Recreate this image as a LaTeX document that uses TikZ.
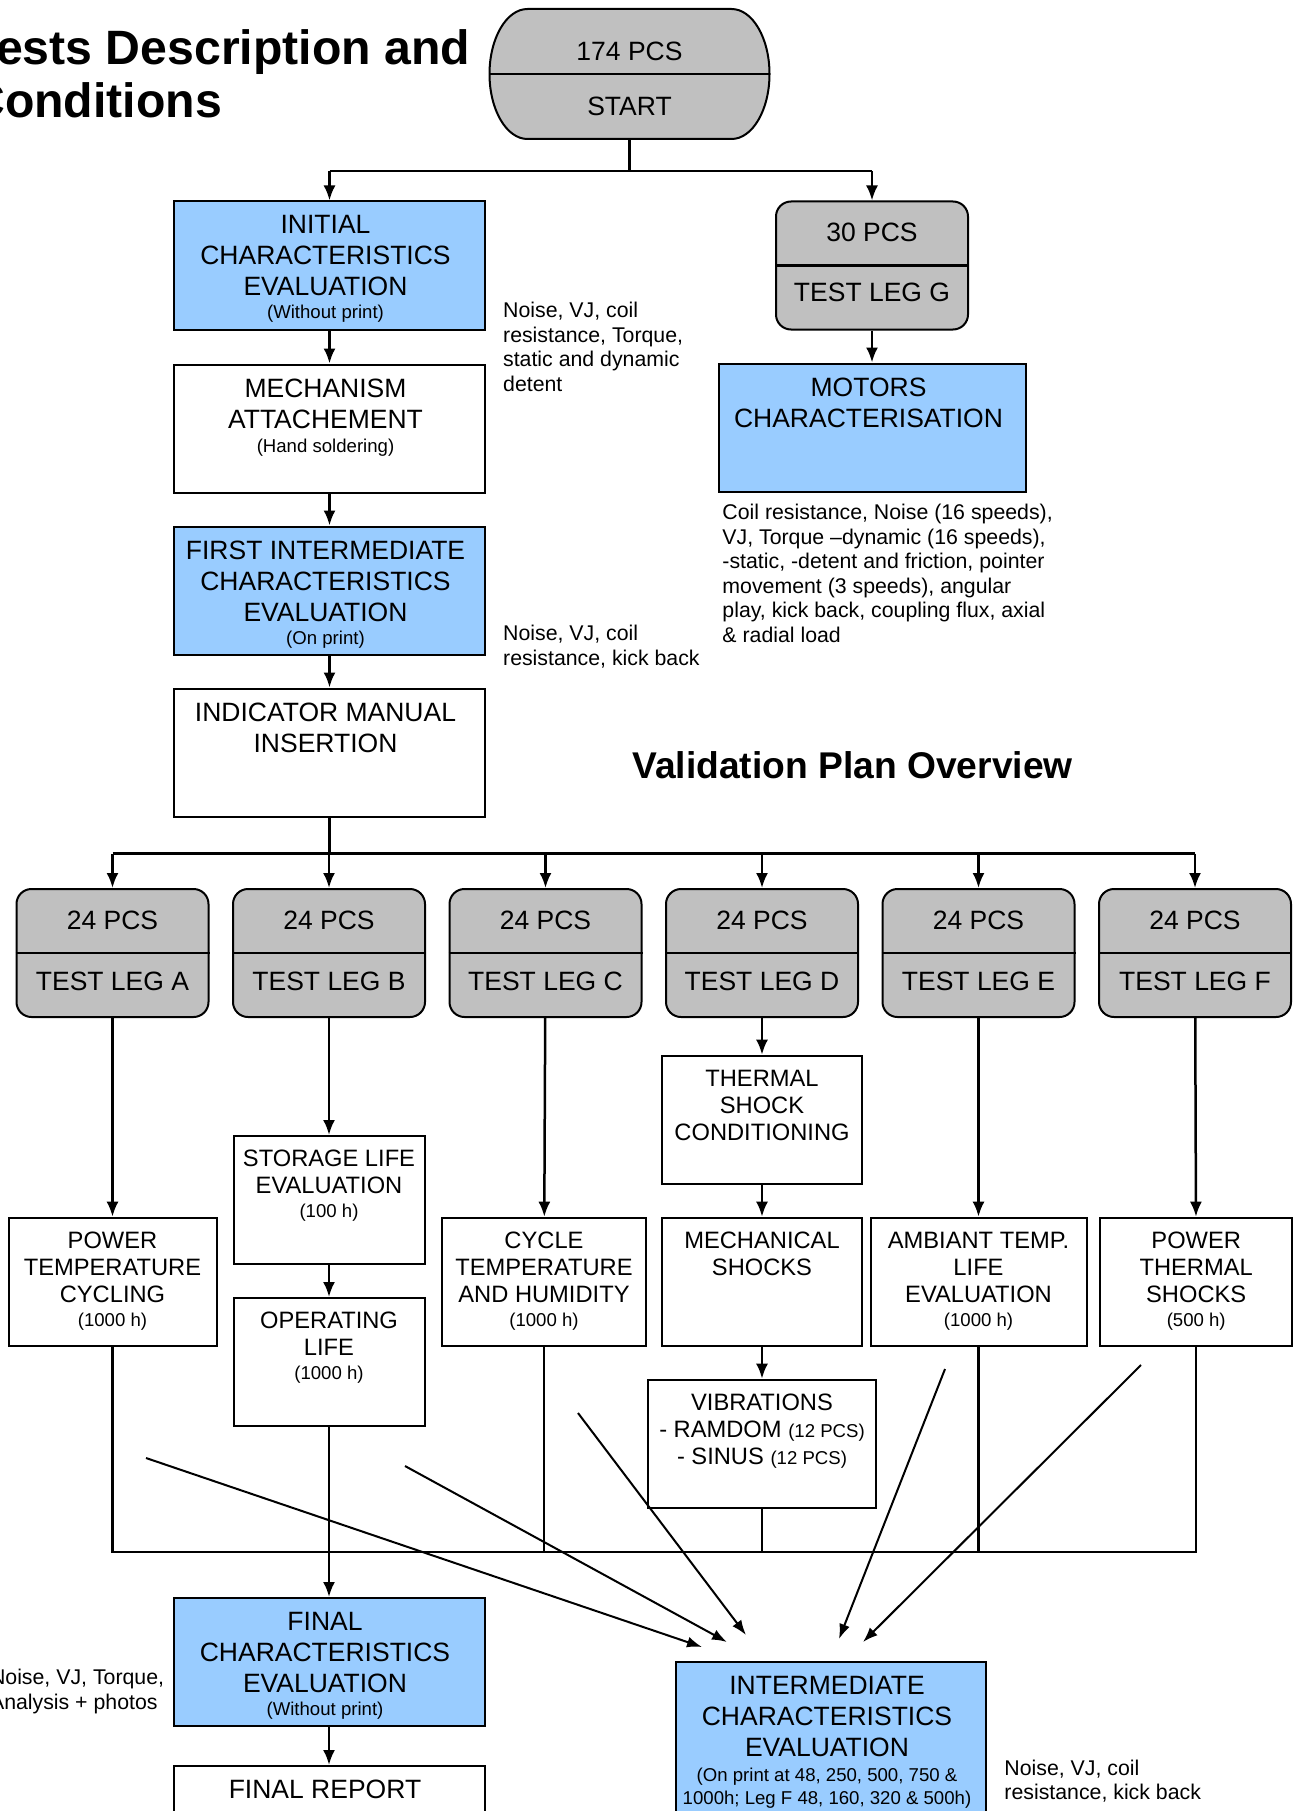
\documentclass[tikz,border=0pt]{standalone}
\usepackage{fontspec}
\setmainfont{Liberation Sans}
\usepackage{tikz}
\usetikzlibrary{arrows.meta}
\usetikzlibrary{positioning,shapes,backgrounds}
\definecolor{legfill}{HTML}{C0C0C0}
\definecolor{evalfill}{HTML}{99CCFF}
\newcommand{\smalltxt}[1]{{\fontsize{18.6}{22}\selectfont #1}}

\begin{document}
\begin{tikzpicture}[x=1pt,y=-1pt,node distance=162pt,line width=2.5pt,
	testbox/.style n args={3}{draw,line width=2pt,inner sep=0pt,
		execute at begin node={\begin{minipage}[c][#2][t]{#1}\centering\rightskip=#3 plus 1fil\vspace*{14pt}},
		execute at end node={\end{minipage}}},
	bigtxt/.style={font=\fontsize{26.5}{31}\selectfont},
	midtxt/.style={font=\fontsize{23.7}{27.3}\selectfont},
	leg/.style={draw,line width=2pt,fill=legfill,rounded corners=15pt,minimum width=192pt,minimum height=128pt,inner sep=0pt,align=center,bigtxt},
	note/.style={inner sep=0pt,align=left,anchor=north west,font=\fontsize{21.3}{24.5}\selectfont}]
	\useasboundingbox (0,0) rectangle (1300,1811);
	\fill (629.5,79) node[inner sep=0pt,minimum width=281pt,minimum height=120pt,align=center,bigtxt] (start) {174 PCS\\[24pt]START};
	\fill (0,0) node[left of=start,xshift=-498.5pt,yshift=51pt,inner sep=0pt,align=left,anchor=north west,font=\fontsize{48.2}{53}\selectfont\bfseries] (title) {Tests Description and\\Conditions};
	%
	\fill (0,0) node[below of=start,xshift=-300pt,yshift=-24.5pt,testbox={311pt}{128pt}{8pt},bigtxt,fill=evalfill] (init) {INITIAL\\CHARACTERISTICS\\EVALUATION\\[-8.3pt]\smalltxt{(Without print)}};
	\fill (0,0) node[right of=init,xshift=380.5pt,leg] (legG) {30 PCS\\[29pt]TEST LEG G\rule[-6pt]{0pt}{6pt}};
	\fill (0,0) node[below of=init,yshift=-1pt,testbox={311pt}{128pt}{8pt},bigtxt] (mech) {MECHANISM\\ATTACHEMENT\\[-6.2pt]\smalltxt{(Hand soldering)}};
	\fill (0,0) node[below of=mech,testbox={311pt}{128pt}{8pt},bigtxt,fill=evalfill] (first) {FIRST INTERMEDIATE\\CHARACTERISTICS\\EVALUATION\\[-7.2pt]\smalltxt{(On print)}};
	\fill (0,0) node[below of=first,testbox={311pt}{128pt}{8pt},bigtxt] (indicator) {INDICATOR MANUAL\\INSERTION};
	\fill (0,0) node[below of=legG,testbox={307pt}{128pt}{7pt},bigtxt,fill=evalfill] (motors) {MOTORS\\CHARACTERISATION};
	%
	\fill (0,0) node[right of=init,xshift=10.4pt,yshift=-35.6pt,note] (initnote) {Noise, VJ, coil\\resistance, Torque,\\static and dynamic\\detent};
	\fill (0,0) node[right of=first,xshift=10.4pt,yshift=-33.5pt,note] (firstnote) {Noise, VJ, coil\\resistance, kick back};
	\fill (0,0) node[below of=motors,xshift=-150.8pt,yshift=86.3pt,note] (motorsnote) {Coil resistance, Noise (16 speeds),\\VJ, Torque --dynamic (16 speeds),\\-static, -detent and friction, pointer\\movement (3 speeds), angular\\play, kick back, coupling flux, axial\\\& radial load};
	\fill (0,0) node[right of=indicator,xshift=361pt,yshift=-12.5pt,font=\fontsize{37.2}{44}\selectfont\bfseries] (plan) {Validation Plan Overview};
	%
	\fill (0,0) node[below of=indicator,xshift=-217pt,yshift=-38.5pt,leg] (legA) {24 PCS\\[30pt]TEST LEG A\rule[-5pt]{0pt}{5pt}};
	\fill (0,0) node[right of=legA,xshift=54.5pt,leg] (legB) {24 PCS\\[30pt]TEST LEG B\rule[-5pt]{0pt}{5pt}};
	\fill (0,0) node[right of=legB,xshift=54.5pt,leg] (legC) {24 PCS\\[30pt]TEST LEG C\rule[-5pt]{0pt}{5pt}};
	\fill (0,0) node[right of=legC,xshift=54.5pt,leg] (legD) {24 PCS\\[30pt]TEST LEG D\rule[-5pt]{0pt}{5pt}};
	\fill (0,0) node[right of=legD,xshift=54.5pt,leg] (legE) {24 PCS\\[30pt]TEST LEG E\rule[-5pt]{0pt}{5pt}};
	\fill (0,0) node[right of=legE,xshift=54.5pt,leg] (legF) {24 PCS\\[30pt]TEST LEG F\rule[-5pt]{0pt}{5pt}};
	%
	\fill (0,0) node[below of=legA,yshift=-166.7pt,testbox={208pt}{128pt}{0pt},midtxt] (pwrtemp) {POWER\\TEMPERATURE\\CYCLING\\[-3.4pt]\smalltxt{(1000 h)}};
	\fill (0,0) node[below of=legB,yshift=-85pt,testbox={191pt}{128pt}{0pt},midtxt] (storage) {STORAGE LIFE\\EVALUATION\\[-3.5pt]\smalltxt{(100 h)}};
	\fill (0,0) node[below of=storage,testbox={191pt}{128pt}{0pt},midtxt] (operating) {OPERATING\\LIFE\\[-4pt]\smalltxt{(1000 h)}};
	\fill (0,0) node[below of=legC,xshift=-1.5pt,yshift=-166.7pt,testbox={204pt}{128pt}{0pt},midtxt] (cycle) {CYCLE\\TEMPERATURE\\AND HUMIDITY\\[-3.4pt]\smalltxt{(1000 h)}};
	\fill (0,0) node[below of=legD,yshift=-4.7pt,testbox={200pt}{128pt}{0pt},midtxt] (thermal) {THERMAL\\SHOCK\\CONDITIONING};
	\fill (0,0) node[below of=thermal,testbox={200pt}{128pt}{0pt},midtxt] (mechshock) {MECHANICAL\\SHOCKS};
	\fill (0,0) node[below of=mechshock,testbox={228pt}{128pt}{0pt},midtxt] (vibr) {VIBRATIONS\\- RAMDOM \smalltxt{(12 PCS)}\\- SINUS \smalltxt{(12 PCS)}};
	\fill (0,0) node[below of=legE,yshift=-166.7pt,testbox={216pt}{128pt}{0pt},midtxt] (ambiant) {AMBIANT TEMP.\\LIFE\\EVALUATION\\[-3.4pt]\smalltxt{(1000 h)}};
	\fill (0,0) node[below of=legF,xshift=1.2pt,yshift=-166.7pt,testbox={192pt}{128pt}{0pt},midtxt] (pwrtherm) {POWER\\THERMAL\\SHOCKS\\[-3.4pt]\smalltxt{(500 h)}};
	%
	\fill (0,0) node[below of=operating,yshift=-138pt,testbox={311pt}{128pt}{8pt},bigtxt,fill=evalfill] (final) {FINAL\\CHARACTERISTICS\\EVALUATION\\[-7.8pt]\smalltxt{(Without print)}};
	\fill (0,0) node[below of=final,yshift=-6pt,testbox={311pt}{128pt}{8pt},bigtxt] (report) {FINAL REPORT};
	\fill (0,0) node[right of=final,xshift=339.5pt,yshift=-80.3pt,testbox={310pt}{160pt}{7pt},bigtxt,fill=evalfill] (inter) {INTERMEDIATE\\CHARACTERISTICS\\EVALUATION\\[2.9pt]\smalltxt{(On print at 48, 250, 500, 750 \&\\[-7.7pt]1000h; Leg F 48, 160, 320 \& 500h)}};
	\fill (0,0) node[left of=final,xshift=-178.2pt,yshift=-5.8pt,note] (finalnote) {Noise, VJ, Torque,\\Analysis + photos};
	\fill (0,0) node[right of=inter,xshift=10.7pt,yshift=-16.4pt,note] (internote) {Noise, VJ, coil\\resistance, kick back};
	%
	\begin{scope}[on background layer]
	\filldraw[fill=legfill,line width=2pt] ([xshift=-102pt,yshift=70pt]start.center) -- ([xshift=102pt,yshift=70pt]start.center) arc[start angle=90,end angle=-90,x radius=38pt,y radius=65pt] -- ([xshift=-102pt,yshift=-60pt]start.center) arc[start angle=270,end angle=90,x radius=38pt,y radius=65pt] -- cycle;
	\end{scope}
	\draw[line width=2pt] ([xshift=-140pt,yshift=5pt]start.center) -- ([xshift=140pt,yshift=5pt]start.center);
	\foreach \leg in {legA,legB,legC,legD,legE,legF,legG}
		\draw[line width=2pt] (\leg.west) -- (\leg.east);
	%
	\coordinate (split1) at ([yshift=-31pt]start.south);
	\coordinate (splitL) at (init.north |- split1);
	\coordinate (splitR) at (legG.north |- split1);
	\coordinate (split2) at ([yshift=-36pt]indicator.south);
	\coordinate (busL) at (legA.north |- split2);
	\coordinate (busR) at (legF.north |- split2);
	\coordinate (collL) at ([yshift=-205.3pt]pwrtemp.south);
	\coordinate (collR) at (pwrtherm.south |- collL);
	\coordinate (d1s) at (146,1458);
	\coordinate (d1e) at (702,1647);
	\coordinate (d2s) at (405,1466);
	\coordinate (d2e) at (727,1642);
	\coordinate (d3s) at (578,1413);
	\coordinate (d3e) at (746,1635);
	\coordinate (d4s) at (945,1369);
	\coordinate (d4e) at (839,1639);
	\coordinate (d5s) at (1141,1365);
	\coordinate (d5e) at (863,1642);
	%
	\draw (start) -- (split1);
	\draw (splitL) -- (splitR);
	\draw (indicator) -- (split2);
	\draw (busL) -- (busR);
	\draw (pwrtemp) |- (collR) -- (pwrtherm);
	\draw (cycle) -- (cycle |- collL);
	\draw (vibr) -- (vibr |- collL);
	\draw (ambiant) -- (ambiant |- collL);
	%
	{
	\pgfsetarrows{-{Latex[length=15pt,width=12pt]}}
	\path (splitL) edge[] (init);
	\path (splitR) edge[] (legG);
	\path (init) edge[] (mech);
	\path (mech) edge[] (first);
	\path (first) edge[] (indicator);
	\path (legG) edge[] (motors);
	\foreach \leg in {legA,legB,legC,legD,legE,legF}
		\path (\leg.north |- busL) edge[] (\leg);
	%
	\path (legA) edge[] (pwrtemp);
	\path (legB) edge[] (storage);
	\path (storage) edge[] (operating);
	\path (legC) edge[] (cycle);
	\path (legD) edge[] (thermal);
	\path (thermal) edge[] (mechshock);
	\path (mechshock) edge[] (vibr);
	\path (legE) edge[] (ambiant);
	\path (legF) edge[] (pwrtherm);
	\path (operating) edge[] (final);
	\path (final) edge[] (report);
	%
	\pgfsetarrows{-{Latex[length=15pt,width=11pt]}}
	\path[line width=2pt] (d1s) edge[] (d1e);
	\path[line width=2pt] (d2s) edge[] (d2e);
	\path[line width=2pt] (d3s) edge[] (d3e);
	\path[line width=2pt] (d4s) edge[] (d4e);
	\path[line width=2pt] (d5s) edge[] (d5e);
	}
\end{tikzpicture}
\end{document}
